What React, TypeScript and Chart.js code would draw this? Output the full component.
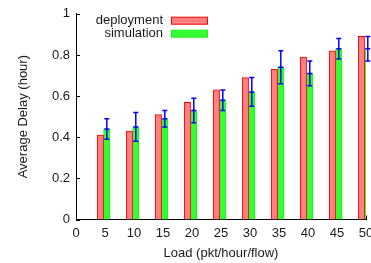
import React, { useEffect, useRef } from 'react';
import { Chart, registerables } from 'chart.js';

Chart.register(...registerables);

const loads = [5, 10, 15, 20, 25, 30, 35, 40, 45, 50];
const deployment = [0.41, 0.43, 0.51, 0.57, 0.63, 0.69, 0.73, 0.79, 0.82, 0.89];
const simulation = [0.44, 0.45, 0.49, 0.53, 0.58, 0.62, 0.74, 0.71, 0.83, 0.83];
const simLow = [0.39, 0.38, 0.45, 0.47, 0.53, 0.55, 0.66, 0.65, 0.78, 0.77];
const simHigh = [0.49, 0.52, 0.53, 0.59, 0.63, 0.69, 0.82, 0.77, 0.88, 0.89];
const xTicks = [0, 5, 10, 15, 20, 25, 30, 35, 40, 45, 50];
const yTicks = [0, 0.2, 0.4, 0.6, 0.8, 1];
const seriesNames = ['deployment', 'simulation'];

const FONT = '"Liberation Sans", Arial, sans-serif';
const TEXT = '#1a1a1a';
const DEP_FILL = '#ff8080';
const DEP_LINE = '#ff0000';
const SIM_FILL = '#33ff33';
const SIM_LINE = '#22ee22';
const GROUP_SHIFT = -1.4;

const shiftPlugin = {
  id: 'groupShift',
  afterDatasetsUpdate(chart: any) {
    chart.data.datasets.forEach((_d: any, di: number) => {
      chart.getDatasetMeta(di).data.forEach((el: any) => {
        el.x += GROUP_SHIFT;
      });
    });
  },
};

const tickPlugin = {
  id: 'inwardTicks',
  beforeDatasetsDraw(chart: any) {
    const { ctx, chartArea, scales } = chart;
    ctx.save();
    ctx.strokeStyle = '#000';
    ctx.lineWidth = 1;
    ctx.beginPath();
    yTicks.forEach((v) => {
      const y = Math.round(scales.y.getPixelForValue(v)) + 0.5;
      ctx.moveTo(chartArea.left, y);
      ctx.lineTo(chartArea.left + 4, y);
    });
    xTicks.forEach((v) => {
      const x = Math.round(scales.x.getPixelForValue(v)) + 0.5;
      ctx.moveTo(x, chartArea.bottom);
      ctx.lineTo(x, chartArea.bottom - 4);
    });
    ctx.stroke();
    ctx.restore();
  },
};

const errorPlugin = {
  id: 'errorBars',
  afterDatasetsDraw(chart: any) {
    const { ctx, scales } = chart;
    const meta = chart.getDatasetMeta(1);
    ctx.save();
    ctx.strokeStyle = '#0000ff';
    ctx.lineWidth = 1.5;
    meta.data.forEach((el: any, i: number) => {
      const x = el.x;
      const yh = scales.y.getPixelForValue(simHigh[i]);
      const yl = scales.y.getPixelForValue(simLow[i]);
      const ym = scales.y.getPixelForValue(simulation[i]);
      ctx.beginPath();
      ctx.moveTo(x, yh);
      ctx.lineTo(x, yl);
      ctx.moveTo(x - 2.5, yh);
      ctx.lineTo(x + 2.5, yh);
      ctx.moveTo(x - 2.5, yl);
      ctx.lineTo(x + 2.5, yl);
      ctx.moveTo(x - 2.5, ym);
      ctx.lineTo(x + 2.5, ym);
      ctx.stroke();
    });
    ctx.restore();
  },
};

const legendPlugin = {
  id: 'gnuLegend',
  afterDraw(chart: any) {
    const { ctx } = chart;
    ctx.save();
    ctx.font = `13px ${FONT}`;
    ctx.textAlign = 'right';
    ctx.textBaseline = 'middle';
    const rows = [
      { name: seriesNames[0], fill: DEP_FILL, line: DEP_LINE, y: 20.7 },
      { name: seriesNames[1], fill: SIM_FILL, line: SIM_LINE, y: 33.7 },
    ];
    rows.forEach((r) => {
      ctx.fillStyle = TEXT;
      ctx.fillText(r.name, 163, r.y);
      ctx.fillStyle = r.fill;
      ctx.fillRect(171.5, r.y - 3.5, 36, 7);
      ctx.strokeStyle = r.line;
      ctx.lineWidth = 1;
      ctx.strokeRect(171.5, r.y - 3.5, 36, 7);
    });
    ctx.restore();
  },
};

export default function App() {
  const ref = useRef<HTMLCanvasElement>(null);

  useEffect(() => {
    document.body.style.margin = '0';
    const canvas = ref.current;
    if (!canvas) return;
    const chart = new Chart(canvas, {
      type: 'bar',
      data: {
        datasets: [
          {
            label: seriesNames[0],
            data: loads.map((x, i) => ({ x, y: deployment[i] })),
            backgroundColor: DEP_FILL,
            borderColor: DEP_LINE,
            borderWidth: 1,
            borderSkipped: 'start',
            barThickness: 6.4,
          },
          {
            label: seriesNames[1],
            data: loads.map((x, i) => ({ x, y: simulation[i] })),
            backgroundColor: SIM_FILL,
            borderColor: SIM_LINE,
            borderWidth: 1,
            borderSkipped: 'start',
            barThickness: 6.4,
          },
        ],
      } as any,
      options: {
        animation: false,
        responsive: false,
        maintainAspectRatio: false,
        layout: { padding: { left: 0, top: 10, right: 19, bottom: 0 } },
        plugins: {
          legend: { display: false },
          tooltip: { enabled: false },
        },
        scales: {
          x: {
            type: 'linear',
            min: 0,
            max: 50,
            offset: false,
            grid: { display: false, drawTicks: false },
            border: { display: true, color: '#000', width: 1 },
            afterBuildTicks: (s: any) => {
              s.ticks = xTicks.map((v) => ({ value: v }));
            },
            afterFit: (s: any) => {
              s.height = 43.5;
            },
            ticks: {
              color: TEXT,
              font: { family: FONT, size: 13 },
              padding: 6,
              maxRotation: 0,
              autoSkip: false,
            },
            title: {
              display: true,
              text: 'Load (pkt/hour/flow)',
              color: TEXT,
              font: { family: FONT, size: 13 },
              padding: { top: 0, bottom: 2 },
            },
          },
          y: {
            type: 'linear',
            min: 0,
            max: 1,
            grid: { display: false, drawTicks: false },
            border: { display: true, color: '#000', width: 1 },
            afterBuildTicks: (s: any) => {
              s.ticks = yTicks.map((v) => ({ value: v }));
            },
            afterFit: (s: any) => {
              s.width = 76;
            },
            ticks: {
              color: TEXT,
              font: { family: FONT, size: 13 },
              padding: 6,
              callback: (v: any) => String(v),
            },
            title: {
              display: true,
              text: 'Average Delay (hour)',
              color: TEXT,
              font: { family: FONT, size: 13 },
              padding: { top: 16, bottom: 0 },
            },
          },
        },
      } as any,
      plugins: [shiftPlugin, tickPlugin, errorPlugin, legendPlugin],
    });
    return () => chart.destroy();
  }, []);

  return (
    <div style={{ width: 371, height: 263, overflow: 'hidden', position: 'relative', background: '#fff' }}>
      <canvas ref={ref} width={385} height={263} style={{ width: 385, height: 263, display: 'block' }} />
    </div>
  );
}
